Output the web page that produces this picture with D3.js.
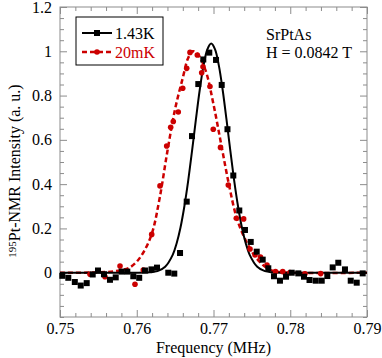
<!DOCTYPE html>
<html>
<head>
<meta charset="utf-8">
<script src="https://cdn.jsdelivr.net/npm/d3@7"></script>
<style>
  body { margin: 0; background: #fff; }
  svg text { font-family: "Liberation Serif", "DejaVu Serif", serif; }
</style>
</head>
<body>
<div id="viz"></div>
<script>
// 1.43K data (black squares)
var freqK = [0.75030, 0.75108, 0.75193, 0.75270, 0.75348, 0.75426, 0.75495, 0.75573, 0.75651, 0.75726,
  0.75804, 0.75877, 0.75955, 0.76032, 0.76107, 0.76192, 0.76264, 0.76411, 0.76489, 0.76564,
  0.76651, 0.76720, 0.76802, 0.76867, 0.76945, 0.77033, 0.77107, 0.77182, 0.77258, 0.77336,
  0.77410, 0.77485, 0.77563, 0.77641, 0.77714, 0.77788, 0.77866, 0.77945, 0.78019, 0.78105,
  0.78179, 0.78251, 0.78332, 0.78410, 0.78483, 0.78553, 0.78626, 0.78713, 0.78788, 0.78866, 0.78944];
var intK = [-0.014, -0.023, -0.042, -0.058, -0.047, -0.008, 0.010, -0.007, -0.032, -0.021,
  0.005, 0.005, -0.016, -0.023, 0.010, 0.015, 0.023, 0.000, -0.004, 0.089,
  0.321, 0.617, 0.852, 0.963, 0.994, 0.961, 0.848, 0.648, 0.439, 0.281,
  0.193, 0.139, 0.095, 0.059, 0.020, -0.016, -0.036, -0.018, 0.000, -0.003,
  -0.018, -0.033, -0.036, -0.036, -0.015, 0.024, 0.045, 0.015, -0.036, -0.045, -0.003];

// 20mK data (red circles)
var freqMK = [0.75391, 0.75586, 0.75782, 0.75977, 0.76085, 0.76195, 0.76303, 0.76390, 0.76442, 0.76476,
  0.76541, 0.76599, 0.76651, 0.76694, 0.76789, 0.76846, 0.76863, 0.76954, 0.76997, 0.77091,
  0.77193, 0.77297, 0.77393, 0.77476, 0.77541, 0.77612, 0.77697, 0.77808, 0.77902, 0.77997,
  0.78192, 0.78397];
var intMK = [-0.007, -0.018, 0.030, -0.052, 0.012, 0.173, 0.392, 0.572, 0.657, 0.683,
  0.726, 0.833, 0.923, 0.995, 0.983, 0.903, 0.930, 0.841, 0.648, 0.566,
  0.396, 0.246, 0.243, 0.107, 0.080, 0.071, 0.035, 0.005, 0.005, 0.001,
  -0.005, -0.004];

// fit curves
var fitFreqK = [0.750, 0.7597, 0.7617, 0.7627, 0.7637, 0.7647, 0.7652, 0.7657, 0.7662, 0.7667,
  0.7672, 0.7677, 0.7682, 0.7687, 0.7692, 0.7697, 0.7702, 0.7707, 0.7712, 0.7717,
  0.7722, 0.7727, 0.7732, 0.7737, 0.7742, 0.7747, 0.7757, 0.7767, 0.7777, 0.7797, 0.790];
var fitIntK = [0, 0, 0.002, 0.007, 0.027, 0.082, 0.133, 0.204, 0.299, 0.415,
  0.549, 0.690, 0.824, 0.935, 1.009, 1.035, 1.009, 0.935, 0.824, 0.690,
  0.549, 0.415, 0.299, 0.204, 0.133, 0.082, 0.027, 0.007, 0.002, 0, 0];

var fitFreqMK = [0.750, 0.756, 0.758, 0.759, 0.760, 0.761, 0.762, 0.763, 0.764, 0.765,
  0.766, 0.7667, 0.7673, 0.768, 0.769, 0.770, 0.771, 0.772, 0.773, 0.774,
  0.775, 0.776, 0.777, 0.778, 0.780, 0.790];
var fitIntMK = [0, 0.003, 0.012, 0.022, 0.05, 0.10, 0.18, 0.34, 0.55, 0.74,
  0.88, 0.97, 1.0, 0.985, 0.91, 0.76, 0.58, 0.40, 0.25, 0.16,
  0.095, 0.05, 0.02, 0.006, 0, 0];

var xMajor = [0.75, 0.76, 0.77, 0.78, 0.79];
var yMajor = [0, 0.2, 0.4, 0.6, 0.8, 1, 1.2];

var width = 382,
    height = 358,
    margin = {top: 7, right: 15, bottom: 41, left: 60},
    red = "#cc0000",
    axisColor = "#8c8c8c",
    serif = '"Liberation Serif", "DejaVu Serif", serif';

var w = width - margin.left - margin.right,
    h = height - margin.top - margin.bottom;

var svg = d3.select('#viz')
  .append("svg")
  .attr("width", width)
  .attr("height", height)
  .attr("font-family", serif);

var g = svg.append("g")
  .attr("transform", `translate(${margin.left},${margin.top})`);

var xScale = d3.scaleLinear().domain([0.75, 0.79]).range([0, w]);
var yScale = d3.scaleLinear().domain([-0.2, 1.2]).range([h, 0]);

var xMinor = d3.range(0, 21).map(i => 0.75 + i * 0.002).filter(v => !xMajor.some(m => Math.abs(m - v) < 1e-9));
var yMinor = d3.range(0, 29).map(i => -0.2 + i * 0.05).filter(v => !yMajor.some(m => Math.abs(m - v) < 1e-9));

function styleAxis(sel) {
  sel.attr("font-family", serif).attr("font-size", 16);
  sel.select(".domain").remove();
  sel.selectAll(".tick line").attr("stroke", axisColor);
  sel.selectAll(".tick text").attr("fill", "#000");
}

// bottom
g.append("g").attr("transform", `translate(0,${h})`)
  .call(d3.axisBottom(xScale).tickValues(xMajor).tickSize(-7).tickPadding(6).tickFormat(d3.format(".2f")))
  .call(styleAxis);
g.append("g").attr("transform", `translate(0,${h})`)
  .call(d3.axisBottom(xScale).tickValues(xMinor).tickSize(-4).tickFormat(""))
  .call(styleAxis);
// top
g.append("g")
  .call(d3.axisTop(xScale).tickValues(xMajor).tickSize(-7).tickFormat(""))
  .call(styleAxis);
g.append("g")
  .call(d3.axisTop(xScale).tickValues(xMinor).tickSize(-4).tickFormat(""))
  .call(styleAxis);
// left
g.append("g")
  .call(d3.axisLeft(yScale).tickValues(yMajor).tickSize(-7).tickPadding(8).tickFormat(d => String(+d.toFixed(1))))
  .call(styleAxis);
g.append("g")
  .call(d3.axisLeft(yScale).tickValues(yMinor).tickSize(-4).tickFormat(""))
  .call(styleAxis);
// right
g.append("g").attr("transform", `translate(${w},0)`)
  .call(d3.axisRight(yScale).tickValues(yMajor).tickSize(-7).tickFormat(""))
  .call(styleAxis);
g.append("g").attr("transform", `translate(${w},0)`)
  .call(d3.axisRight(yScale).tickValues(yMinor).tickSize(-4).tickFormat(""))
  .call(styleAxis);

// frame
g.append("rect")
  .attr("width", w).attr("height", h)
  .attr("fill", "none").attr("stroke", axisColor).attr("stroke-width", 1);

var line = d3.line()
  .x(d => xScale(d[0]))
  .y(d => yScale(d[1]))
  .curve(d3.curveCatmullRom);

// red dashed fit
g.append("path")
  .datum(fitFreqMK.map((f, i) => [f, fitIntMK[i]]))
  .attr("d", line)
  .attr("fill", "none")
  .attr("stroke", red)
  .attr("stroke-width", 2.5)
  .attr("stroke-dasharray", "5,3");

// black fit
g.append("path")
  .datum(fitFreqK.map((f, i) => [f, fitIntK[i]]))
  .attr("d", line)
  .attr("fill", "none")
  .attr("stroke", "#000")
  .attr("stroke-width", 2);

// red points
g.selectAll(".mk")
  .data(freqMK.map((f, i) => [f, intMK[i]]))
  .enter().append("circle")
  .attr("class", "mk")
  .attr("cx", d => xScale(d[0]))
  .attr("cy", d => yScale(d[1]))
  .attr("r", 2.8)
  .attr("fill", red);

// black squares
var sq = 6;
g.selectAll(".k")
  .data(freqK.map((f, i) => [f, intK[i]]))
  .enter().append("rect")
  .attr("class", "k")
  .attr("x", d => xScale(d[0]) - sq / 2)
  .attr("y", d => yScale(d[1]) - sq / 2)
  .attr("width", sq)
  .attr("height", sq)
  .attr("fill", "#000");

// legend
var leg = svg.append("g").attr("transform", "translate(76,17)");
leg.append("rect")
  .attr("width", 87).attr("height", 48)
  .attr("fill", "#fff").attr("stroke", "#000").attr("stroke-width", 1);
leg.append("line").attr("x1", 6).attr("x2", 36).attr("y1", 16).attr("y2", 16)
  .attr("stroke", "#000").attr("stroke-width", 2);
leg.append("rect").attr("x", 18).attr("y", 13).attr("width", 6).attr("height", 6).attr("fill", "#000");
leg.append("text").attr("x", 39).attr("y", 21.5).attr("font-size", 16).text("1.43K");
leg.append("line").attr("x1", 6).attr("x2", 36).attr("y1", 35).attr("y2", 35)
  .attr("stroke", red).attr("stroke-width", 2.5).attr("stroke-dasharray", "5,3");
leg.append("circle").attr("cx", 21).attr("cy", 35).attr("r", 2.8).attr("fill", red);
leg.append("text").attr("x", 39).attr("y", 40.5).attr("font-size", 16).attr("fill", red).text("20mK");

// annotations
svg.append("text").attr("x", 266).attr("y", 40).attr("font-size", 16).text("SrPtAs");
svg.append("text").attr("x", 266).attr("y", 58).attr("font-size", 16).text("H = 0.0842 T");

// axis titles
svg.append("text")
  .attr("x", margin.left + w / 2).attr("y", 353)
  .attr("text-anchor", "middle")
  .attr("font-size", 16)
  .text("Frequency (MHz)");

var yt = svg.append("text")
  .attr("transform", "translate(20,171) rotate(-90)")
  .attr("text-anchor", "middle")
  .attr("font-size", 16);
yt.append("tspan").attr("baseline-shift", "40%").attr("font-size", 11).text("195");
yt.append("tspan").text("Pt-NMR Intensity (a. u.)");
</script>
</body>
</html>
